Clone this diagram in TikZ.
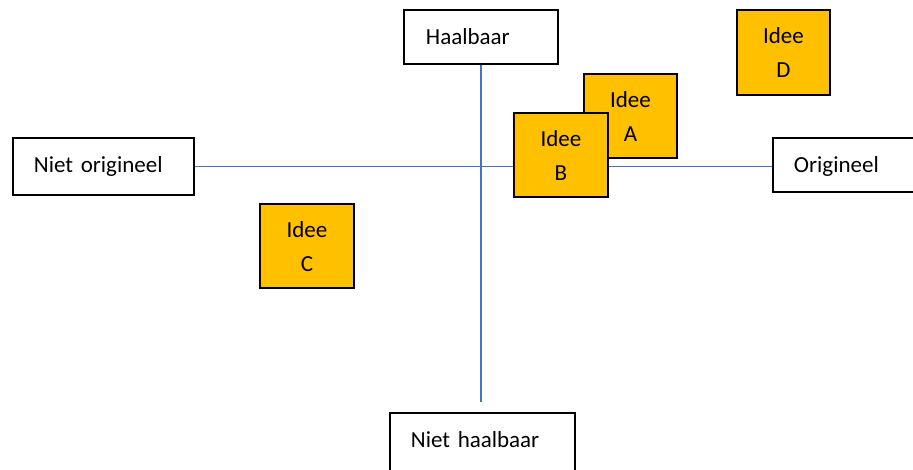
\documentclass[tikz,border=0pt]{standalone}
\usepackage{fontspec}
\usetikzlibrary{backgrounds}
\setmainfont{Carlito}
\definecolor{axisblue}{RGB}{68,114,196}
\definecolor{ideaorange}{RGB}{255,192,0}
\begin{document}
\begin{tikzpicture}[x=1pt,y=-1pt,
  every node/.style={font=\fontsize{23}{34}\selectfont},
  axisbox/.style={draw=black,line width=1.9pt,fill=white,anchor=north west,
    inner ysep=0pt,align=left,text height=34.5pt},
  ideabox/.style={draw=black,line width=1.9pt,fill=ideaorange,anchor=north west,
    inner sep=0pt,align=center,text height=33.5pt},
  axisline/.style={draw=axisblue,line width=1.9pt}]
\useasboundingbox (0,0) rectangle (913,469);
\clip (0,0) rectangle (913,469);

% axis labels
\node[axisbox,inner xsep=21pt,text width=139pt,text depth=22.5pt] (norig) at (12,137) {Niet origineel};
\node[axisbox,inner xsep=21pt,text width=139pt,text depth=19.5pt] (orig) at (772,137) {Origineel};
\node[axisbox,inner xsep=22pt,text width=110pt,text depth=19.5pt] (haal) at (403,9) {Haalbaar};
\node[axisbox,inner xsep=21pt,text width=143pt,text depth=40pt] (nhaal) at (389,412) {Niet haalbaar};

% lower end of the vertical axis stops short of its label
\coordinate (vend) at (haal.south |- 0,402);

% axes, beneath the boxes
\begin{scope}[on background layer]
  \draw[axisline] (norig.east) -- (orig.west |- norig.east);
  \draw[axisline] (haal.south) -- (vend);
\end{scope}

% ideas
\node[ideabox,text width=93pt,text depth=50.5pt] (ideaA) at (583,73) {Idee\\A};
\node[ideabox,text width=94pt,text depth=50.5pt] (ideaB) at (513,112) {Idee\\B};
\node[ideabox,text width=94pt,text depth=50.5pt] (ideaC) at (259,203) {Idee\\C};
\node[ideabox,text width=93pt,text depth=51.5pt] (ideaD) at (736,9) {Idee\\D};
\end{tikzpicture}
\end{document}
